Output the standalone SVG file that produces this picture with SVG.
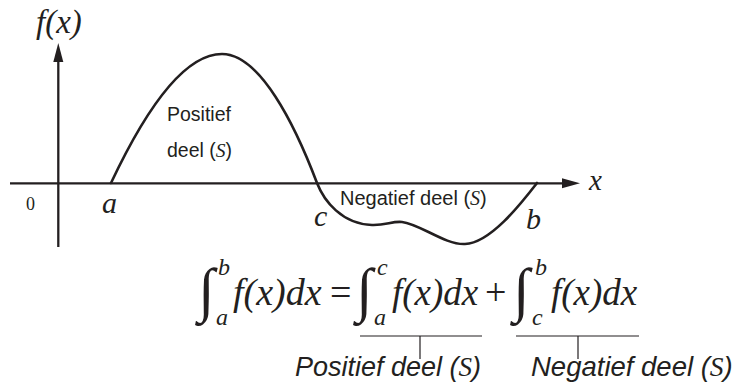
<svg xmlns="http://www.w3.org/2000/svg" width="741" height="387" viewBox="0 0 741 387">
<style>
.ax{stroke:#231f20;stroke-width:2.3;fill:none}
.cv{stroke:#231f20;stroke-width:2.6;fill:none;stroke-linecap:round;stroke-linejoin:round}
.ln{stroke:#231f20;stroke-width:1.2;fill:none}
.ah{fill:#231f20}
.m{font-family:"Liberation Serif","Times New Roman",serif;font-style:italic;fill:#231f20}
.r{font-family:"Liberation Serif","Times New Roman",serif;fill:#231f20}
.s{font-family:"Liberation Sans",Arial,sans-serif;fill:#231f20}
.si{font-family:"Liberation Sans",Arial,sans-serif;font-style:italic;fill:#231f20}
.S{font-family:"Liberation Serif","Times New Roman",serif;font-style:italic}
</style>
<g id="connectors">
<line class="ax" x1="58.3" y1="247" x2="58.3" y2="58"/>
<polygon class="ah" points="58.3,43 53.3,62 63.3,62"/>
<line class="ax" x1="10" y1="183.3" x2="566" y2="183.3"/>
<polygon class="ah" points="580,183.3 562,178.3 562,188.3"/>
<path class="cv" d="M111,183 C136,130 178,54 222,54 C260,54 295,125 317,183 C324,201 342,224 372,225 C386,225.5 392,221 402,222 C420,224 445,245 465,244 C490,243 520,205 537,183"/>
<polyline class="ln" points="360,336 482,336"/>
<line class="ln" x1="420" y1="336" x2="420" y2="359"/>
<polyline class="ln" points="516,336 639,336"/>
<line class="ln" x1="578" y1="336" x2="578" y2="359"/>
</g>
<g id="axis-labels">
<text class="m" x="36" y="33" font-size="33">f(x)</text>
<text class="m" x="589" y="190" font-size="29">x</text>
<text class="r" x="26" y="210" font-size="18">0</text>
<text class="m" x="102" y="213" font-size="30">a</text>
<text class="m" x="314" y="226" font-size="30">c</text>
<text class="m" x="526" y="229" font-size="30">b</text>
</g>
<g id="positive-label">
<text class="s" x="167" y="121" font-size="19.5">Positief</text>
<text class="s" x="167" y="157" font-size="19.5">deel (<tspan class="S">S</tspan>)</text>
</g>
<g id="negative-label">
<text class="s" x="340" y="205" font-size="20">Negatief deel (<tspan class="S">S</tspan>)</text>
</g>
<g id="equation">
<text class="r" x="198" y="310" font-size="60">∫</text>
<text class="m" x="218" y="275" font-size="24">b</text>
<text class="m" x="216" y="325" font-size="24">a</text>
<text class="m" x="233" y="305" font-size="38">f(x)dx</text>
<text class="r" x="330" y="305" font-size="38">=</text>
<text class="r" x="356" y="310" font-size="60">∫</text>
<text class="m" x="377" y="275" font-size="24">c</text>
<text class="m" x="374" y="325" font-size="24">a</text>
<text class="m" x="392" y="305" font-size="37">f(x)dx</text>
<text class="r" x="485" y="305" font-size="38">+</text>
<text class="r" x="513" y="310" font-size="60">∫</text>
<text class="m" x="535" y="275" font-size="24">b</text>
<text class="m" x="532" y="325" font-size="24">c</text>
<text class="m" x="551" y="305" font-size="37">f(x)dx</text>
</g>
<g id="bottom-labels">
<text class="si" x="295" y="376" font-size="27">Positief deel (<tspan class="S">S</tspan>)</text>
<text class="si" x="531" y="376" font-size="27.5">Negatief deel (<tspan class="S">S</tspan>)</text>
</g>
</svg>
